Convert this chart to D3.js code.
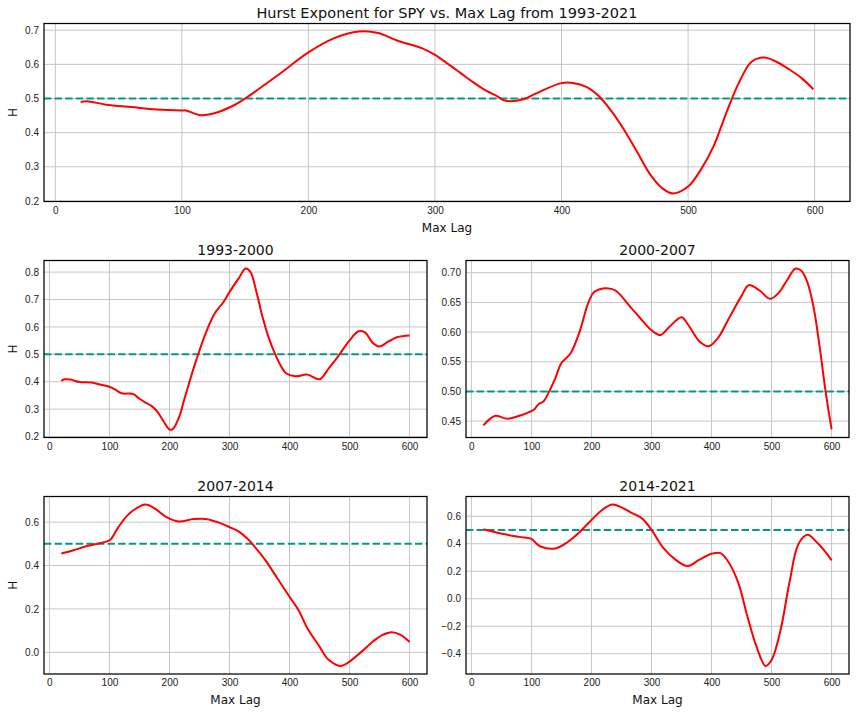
<!DOCTYPE html>
<html>
<head>
<meta charset="utf-8">
<script src="https://cdn.jsdelivr.net/npm/d3@7"></script>
<style>
  body { margin: 0; background: #fff; }
  svg { font-family: "DejaVu Sans", sans-serif; }
  .tick text { fill: #222; font-size: 10px; }
</style>
</head>
<body>
<div id="fig"></div>
<script>
// Hurst exponent vs max lag
const lagFull = [20, 25, 40, 60, 80, 100, 103, 115, 125, 140, 150, 175, 200, 220, 240, 255, 270, 290, 300, 310, 320, 330, 340, 350, 355, 370, 380, 400, 410, 420, 430, 440, 450, 460, 470, 480, 488, 500, 510, 520, 530, 540, 550, 560, 570, 580, 590, 599];
const hFull = [0.490, 0.492, 0.482, 0.475, 0.468, 0.465, 0.465, 0.451, 0.456, 0.478, 0.500, 0.566, 0.635, 0.676, 0.696, 0.692, 0.670, 0.647, 0.628, 0.602, 0.575, 0.548, 0.524, 0.505, 0.494, 0.498, 0.515, 0.545, 0.545, 0.533, 0.505, 0.460, 0.405, 0.342, 0.278, 0.236, 0.222, 0.242, 0.291, 0.359, 0.456, 0.545, 0.607, 0.620, 0.607, 0.585, 0.559, 0.527];

const lag9300 = [20, 25, 35, 50, 70, 90, 100, 110, 120, 140, 150, 160, 170, 180, 190, 200, 205, 215, 225, 240, 250, 260, 275, 290, 300, 315, 327, 335, 345, 355, 365, 375, 385, 395, 410, 430, 450, 465, 480, 500, 515, 525, 540, 550, 565, 580, 600];
const h9300 = [0.403, 0.409, 0.408, 0.399, 0.397, 0.387, 0.382, 0.371, 0.358, 0.355, 0.338, 0.324, 0.312, 0.290, 0.256, 0.226, 0.226, 0.265, 0.338, 0.448, 0.514, 0.575, 0.648, 0.691, 0.727, 0.776, 0.813, 0.800, 0.727, 0.636, 0.563, 0.506, 0.460, 0.430, 0.420, 0.426, 0.409, 0.448, 0.490, 0.551, 0.584, 0.581, 0.539, 0.529, 0.547, 0.563, 0.569];

const lag0007 = [20, 30, 40, 60, 80, 100, 105, 112, 120, 130, 140, 150, 165, 180, 195, 205, 225, 240, 265, 280, 300, 315, 330, 350, 360, 380, 395, 410, 430, 450, 462, 480, 497, 510, 525, 540, 550, 560, 570, 580, 590, 600];
const h0007 = [0.443, 0.453, 0.459, 0.454, 0.459, 0.467, 0.470, 0.479, 0.483, 0.501, 0.523, 0.548, 0.564, 0.600, 0.650, 0.668, 0.674, 0.670, 0.642, 0.625, 0.603, 0.595, 0.609, 0.625, 0.614, 0.584, 0.576, 0.589, 0.625, 0.661, 0.679, 0.670, 0.656, 0.664, 0.686, 0.707, 0.703, 0.683, 0.642, 0.576, 0.500, 0.436];

const lag0714 = [20, 40, 60, 80, 100, 103, 115, 130, 145, 160, 175, 195, 215, 240, 260, 280, 300, 315, 330, 340, 360, 380, 400, 415, 430, 450, 465, 485, 500, 520, 540, 555, 570, 585, 600];
const h0714 = [0.455, 0.470, 0.488, 0.500, 0.516, 0.523, 0.577, 0.631, 0.664, 0.681, 0.664, 0.623, 0.603, 0.614, 0.615, 0.600, 0.577, 0.557, 0.523, 0.493, 0.424, 0.340, 0.256, 0.194, 0.110, 0.026, -0.035, -0.063, -0.043, 0.003, 0.052, 0.080, 0.092, 0.080, 0.047];

const lag1421 = [20, 40, 60, 80, 100, 105, 115, 140, 160, 180, 200, 220, 235, 250, 265, 285, 300, 320, 340, 360, 380, 400, 415, 430, 445, 460, 475, 490, 500, 515, 530, 545, 560, 575, 590, 600];
const h1421 = [0.506, 0.484, 0.465, 0.450, 0.436, 0.416, 0.380, 0.366, 0.411, 0.484, 0.573, 0.653, 0.685, 0.665, 0.629, 0.581, 0.501, 0.368, 0.284, 0.238, 0.284, 0.327, 0.332, 0.255, 0.110, -0.132, -0.349, -0.489, -0.446, -0.228, 0.122, 0.400, 0.465, 0.412, 0.339, 0.279];

const xTicks = [0, 100, 200, 300, 400, 500, 600];

const width = 856, height = 712;
const svg = d3.select('#fig').append('svg')
    .attr('width', width)
    .attr('height', height);

// one panel = one axes box
function panel(opts) {
    const {left, right, top, bottom, lags, hs, yTicks, yFmt, title, titleSize, yLabel, xLabel} = opts;
    const w = right - left, h = bottom - top;
    const g = svg.append('g').attr('transform', `translate(${left},${top})`);

    // matplotlib style 5% margins
    const xe = d3.extent(lags), ye = d3.extent(hs);
    const xp = (xe[1] - xe[0]) * 0.05, yp = (ye[1] - ye[0]) * 0.05;
    const x = d3.scaleLinear().domain([xe[0] - xp, xe[1] + xp]).range([0, w]);
    const y = d3.scaleLinear().domain([ye[0] - yp, ye[1] + yp]).range([h, 0]);

    // grid
    g.append('g').selectAll('line').data(xTicks).enter().append('line')
        .attr('x1', d => x(d)).attr('x2', d => x(d))
        .attr('y1', 0).attr('y2', h)
        .attr('stroke', '#c6c6c6').attr('stroke-width', 1);
    g.append('g').selectAll('line').data(yTicks).enter().append('line')
        .attr('x1', 0).attr('x2', w)
        .attr('y1', d => y(d)).attr('y2', d => y(d))
        .attr('stroke', '#c6c6c6').attr('stroke-width', 1);

    // axes without tick marks
    g.append('g')
        .attr('transform', `translate(0,${h})`)
        .call(d3.axisBottom(x).tickValues(xTicks).tickSize(0).tickPadding(5).tickFormat(d3.format('d')))
        .call(a => a.select('.domain').remove());
    g.append('g')
        .call(d3.axisLeft(y).tickValues(yTicks).tickSize(0).tickPadding(5).tickFormat(d3.format(yFmt)))
        .call(a => a.select('.domain').remove());

    // reference line at H = 0.5
    g.append('line')
        .attr('x1', 0).attr('x2', w)
        .attr('y1', y(0.5)).attr('y2', y(0.5))
        .attr('stroke', '#009a87')
        .attr('stroke-width', 2)
        .attr('stroke-dasharray', '7.4,3.2');

    const line = d3.line()
        .x((d, i) => x(lags[i]))
        .y(d => y(d))
        .curve(d3.curveCatmullRom.alpha(0.5));

    g.append('path')
        .datum(hs)
        .attr('d', line)
        .attr('fill', 'none')
        .attr('stroke', '#ff0000')
        .attr('stroke-width', 2)
        .attr('stroke-linejoin', 'round');

    // frame
    g.append('rect')
        .attr('width', w).attr('height', h)
        .attr('fill', 'none')
        .attr('stroke', '#000')
        .attr('stroke-width', 1.25);

    g.append('text')
        .attr('x', w / 2).attr('y', -6)
        .attr('text-anchor', 'middle')
        .attr('font-size', titleSize)
        .attr('font-weight', 'normal')
        .attr('fill', '#111')
        .text(title);

    if (yLabel) {
        g.append('text')
            .attr('transform', `translate(${-left + 17},${h / 2}) rotate(-90)`)
            .attr('text-anchor', 'middle')
            .attr('font-size', 12)
            .attr('fill', '#111')
            .text(yLabel);
    }
    if (xLabel) {
        g.append('text')
            .attr('x', w / 2).attr('y', h + 30)
            .attr('text-anchor', 'middle')
            .attr('font-size', 12)
            .attr('fill', '#111')
            .text(xLabel);
    }
}

panel({left: 44, right: 850, top: 23.5, bottom: 201.5, lags: lagFull, hs: hFull,
    yTicks: [0.2, 0.3, 0.4, 0.5, 0.6, 0.7], yFmt: '.1f',
    title: 'Hurst Exponent for SPY vs. Max Lag from 1993-2021', titleSize: 14.5,
    yLabel: 'H', xLabel: 'Max Lag'});

panel({left: 44, right: 427, top: 260.5, bottom: 437.5, lags: lag9300, hs: h9300,
    yTicks: [0.2, 0.3, 0.4, 0.5, 0.6, 0.7, 0.8], yFmt: '.1f',
    title: '1993-2000', titleSize: 14, yLabel: 'H'});

panel({left: 466, right: 849, top: 260.5, bottom: 437.5, lags: lag0007, hs: h0007,
    yTicks: [0.45, 0.5, 0.55, 0.6, 0.65, 0.7], yFmt: '.2f',
    title: '2000-2007', titleSize: 14});

panel({left: 44, right: 427, top: 496.5, bottom: 674, lags: lag0714, hs: h0714,
    yTicks: [0, 0.2, 0.4, 0.6], yFmt: '.1f',
    title: '2007-2014', titleSize: 14, yLabel: 'H', xLabel: 'Max Lag'});

panel({left: 466, right: 849, top: 496.5, bottom: 674, lags: lag1421, hs: h1421,
    yTicks: [-0.4, -0.2, 0, 0.2, 0.4, 0.6], yFmt: '.1f',
    title: '2014-2021', titleSize: 14, xLabel: 'Max Lag'});
</script>
</body>
</html>
